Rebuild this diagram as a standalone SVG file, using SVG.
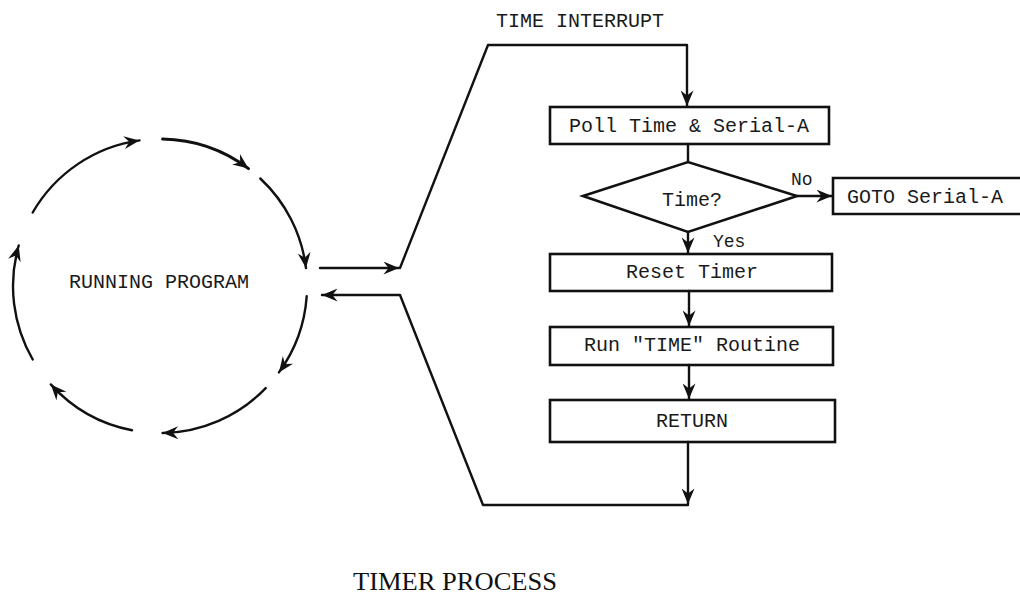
<svg xmlns="http://www.w3.org/2000/svg" width="1020" height="595" viewBox="0 0 1020 595">
<style>
.ln{fill:none;stroke:#111;stroke-width:2.4;stroke-linejoin:round;stroke-linecap:round}
.bx{fill:#fff;stroke:#111;stroke-width:2.6}
.t{font-family:"Liberation Mono","DejaVu Sans Mono",monospace;font-size:20px;fill:#1a1a1a}
.s{font-family:"Liberation Mono","DejaVu Sans Mono",monospace;font-size:18px;fill:#1a1a1a}
.ti{font-family:"Liberation Serif","DejaVu Serif",serif;font-size:26px;fill:#111}
</style>
<defs>
<marker id="ah" viewBox="0 0 12 10" refX="12" refY="5" markerUnits="userSpaceOnUse" markerWidth="17" markerHeight="13" orient="auto">
<path d="M0,0 L12,5 L0,10 L4,5 z" fill="#111"/>
</marker>
</defs>
<rect width="1020" height="595" fill="#fff"/>

<g id="running-program">
<path class="ln" marker-end="url(#ah)" d="M32.7,212.5 A147,147 0 0 1 139.5,140.4"/>
<path class="ln" marker-end="url(#ah)" style="stroke-width:3" d="M162.6,139 A147,147 0 0 1 248.5,168.6"/>
<path class="ln" marker-end="url(#ah)" d="M260.3,178.5 A147,147 0 0 1 306,268.1"/>
<path class="ln" marker-end="url(#ah)" d="M306.7,296.3 A147,147 0 0 1 278.9,372.4"/>
<path class="ln" marker-end="url(#ah)" d="M265.7,388.1 A147,147 0 0 1 162.6,433"/>
<path class="ln" marker-end="url(#ah)" d="M132,430.3 A147,147 0 0 1 50.8,384.4"/>
<path class="ln" marker-end="url(#ah)" d="M32.7,359.5 A147,147 0 0 1 18.7,245.5"/>
<text class="t" x="159" y="288" text-anchor="middle">RUNNING PROGRAM</text>
</g>

<text class="t" x="580" y="27" text-anchor="middle">TIME INTERRUPT</text>

<g id="poll">
<rect class="bx" x="550" y="107" width="279" height="37"/>
<text class="t" x="689" y="132" text-anchor="middle">Poll Time &amp; Serial-A</text>
</g>
<g id="decision">
<polygon class="bx" points="583,196 688,162 797,196 688,232"/>
<text class="t" x="692" y="206" text-anchor="middle">Time?</text>
</g>
<g id="goto">
<polyline class="bx" points="1022,178 833,178 833,214 1022,214"/>
<text class="t" x="847" y="203">GOTO Serial-A</text>
</g>
<g id="reset">
<rect class="bx" x="550" y="254" width="282" height="37"/>
<text class="t" x="692" y="278" text-anchor="middle">Reset Timer</text>
</g>
<g id="run">
<rect class="bx" x="550" y="327" width="283" height="38"/>
<text class="t" x="692" y="351" text-anchor="middle">Run "TIME" Routine</text>
</g>
<g id="return">
<rect class="bx" x="550" y="400" width="285" height="42"/>
<text class="t" x="692" y="427" text-anchor="middle">RETURN</text>
</g>

<g id="connectors">
<path class="ln" marker-end="url(#ah)" d="M320,268 L399,268"/>
<path class="ln" marker-end="url(#ah)" d="M400,268 L488,45 L687,45 L687,106"/>
<path class="ln" d="M688,144 L688,162"/>
<path class="ln" marker-end="url(#ah)" d="M797,196 L832,196"/>
<path class="ln" marker-end="url(#ah)" d="M688,232 L688,253"/>
<path class="ln" marker-end="url(#ah)" d="M689,291 L689,326"/>
<path class="ln" marker-end="url(#ah)" d="M689,365 L689,399"/>
<path class="ln" marker-end="url(#ah)" d="M688,442 L688,504"/>
<path class="ln" marker-end="url(#ah)" d="M688,505 L483,505 L400,295 L322,295"/>
<text class="s" x="791" y="185">No</text>
<text class="s" x="713" y="247">Yes</text>
</g>

<text class="ti" x="353" y="590" textLength="204" lengthAdjust="spacingAndGlyphs">TIMER PROCESS</text>
</svg>
